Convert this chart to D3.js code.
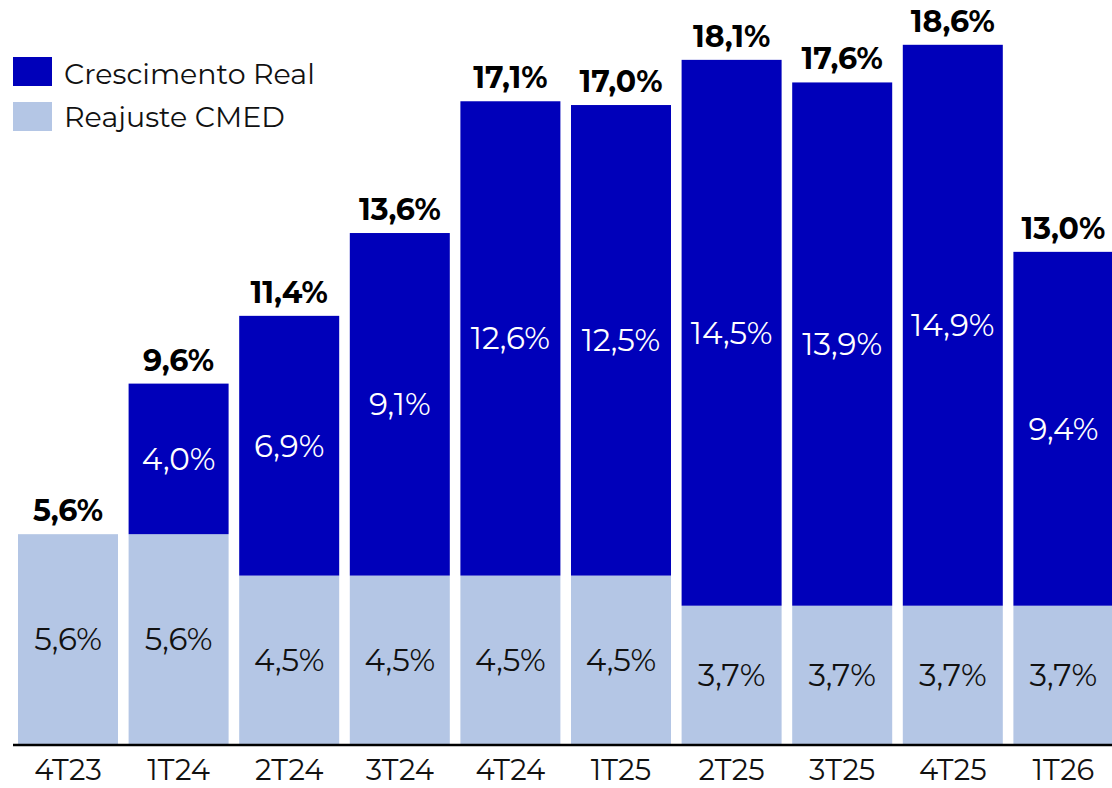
<!DOCTYPE html>
<html>
<head>
<meta charset="utf-8">
<script src="https://cdn.jsdelivr.net/npm/d3@7"></script>
<style>
  html, body { margin: 0; padding: 0; background: #fff; }
  svg { display: block; font-family: Montserrat, "Open Sans", sans-serif; }
</style>
</head>
<body>
<svg id="chart" width="1112" height="788"></svg>
<script>
// Quarterly price growth: CMED adjustment + real growth (stacked)
const quarters = ["4T23", "1T24", "2T24", "3T24", "4T24", "1T25", "2T25", "3T25", "4T25", "1T26"];
const reajusteCMED = [5.6, 5.6, 4.5, 4.5, 4.5, 4.5, 3.7, 3.7, 3.7, 3.7];
const crescimentoReal = [null, 4.0, 6.9, 9.1, 12.6, 12.5, 14.5, 13.9, 14.9, 9.4];
const totals = [5.6, 9.6, 11.4, 13.6, 17.1, 17.0, 18.1, 17.6, 18.6, 13.0];

const seriesNames = ["Crescimento Real", "Reajuste CMED"];
const colors = { real: "#0000BA", cmed: "#B4C6E5" };

const fmt = v => v.toFixed(1).replace(".", ",") + "%";

const svg = d3.select("#chart");

const x = d3.scaleBand()
  .domain(quarters)
  .range([12.7, 1118.7])
  .paddingInner(0.0958)
  .paddingOuter(0.0479);

const y = d3.scaleLinear()
  .domain([0, 19.79])
  .range([745, 0]);

const rows = quarters.map((q, i) => ({
  q,
  cmed: reajusteCMED[i],
  real: crescimentoReal[i] || 0,
  hasReal: crescimentoReal[i] != null,
  total: totals[i]
}));

// Bottom segment: CMED adjustment
svg.append("g").selectAll("rect")
  .data(rows)
  .join("rect")
  .attr("x", d => x(d.q))
  .attr("width", x.bandwidth())
  .attr("y", d => y(d.cmed))
  .attr("height", d => y(0) - y(d.cmed))
  .attr("fill", colors.cmed);

// Top segment: real growth
svg.append("g").selectAll("rect")
  .data(rows.filter(d => d.hasReal))
  .join("rect")
  .attr("x", d => x(d.q))
  .attr("width", x.bandwidth())
  .attr("y", d => y(d.cmed + d.real))
  .attr("height", d => y(d.cmed) - y(d.cmed + d.real))
  .attr("fill", colors.real);

// Segment labels
svg.append("g").selectAll("text")
  .data(rows)
  .join("text")
  .attr("x", d => x(d.q) + x.bandwidth() / 2)
  .attr("y", d => (y(0) + y(d.cmed)) / 2)
  .attr("dy", "0.35em")
  .attr("text-anchor", "middle")
  .attr("font-size", 31)
  .attr("fill", "#111")
  .text(d => fmt(d.cmed));

svg.append("g").selectAll("text")
  .data(rows.filter(d => d.hasReal))
  .join("text")
  .attr("x", d => x(d.q) + x.bandwidth() / 2)
  .attr("y", d => (y(d.cmed) + y(d.cmed + d.real)) / 2)
  .attr("dy", "0.35em")
  .attr("text-anchor", "middle")
  .attr("font-size", 31)
  .attr("fill", "#fff")
  .text(d => fmt(d.real));

// Total labels above each stack
svg.append("g").selectAll("text")
  .data(rows)
  .join("text")
  .attr("x", d => x(d.q) + x.bandwidth() / 2)
  .attr("y", d => y(d.cmed + d.real) - 13)
  .attr("text-anchor", "middle")
  .attr("font-size", 30)
  .attr("font-weight", 700)
  .attr("fill", "#000")
  .text(d => fmt(d.total));

// Category axis
const xAxis = svg.append("g")
  .attr("transform", `translate(0,${y(0)})`)
  .call(d3.axisBottom(x).tickSize(0).tickPadding(0));
xAxis.select(".domain").remove();
xAxis.append("line")
  .attr("x1", 13).attr("x2", 1112)
  .attr("y1", 0).attr("y2", 0)
  .attr("stroke", "#000").attr("stroke-width", 2.5);
xAxis.selectAll(".tick text")
  .attr("y", 35)
  .attr("dy", 0)
  .attr("font-size", 29)
  .attr("font-family", "Montserrat, 'Open Sans', sans-serif")
  .attr("fill", "#111");

// Legend
const legend = svg.append("g");
const legendItems = [
  { name: seriesNames[0], color: colors.real, base: 84 },
  { name: seriesNames[1], color: colors.cmed, base: 127 }
];
legendItems.forEach((it, i) => {
  const gy = 57 + i * 45;
  legend.append("rect")
    .attr("x", 13).attr("y", gy)
    .attr("width", 39).attr("height", 29)
    .attr("fill", it.color);
  legend.append("text")
    .attr("x", 64).attr("y", it.base)
    .attr("font-size", 28.5)
    .attr("fill", "#111")
    .text(it.name);
});
</script>
</body>
</html>
